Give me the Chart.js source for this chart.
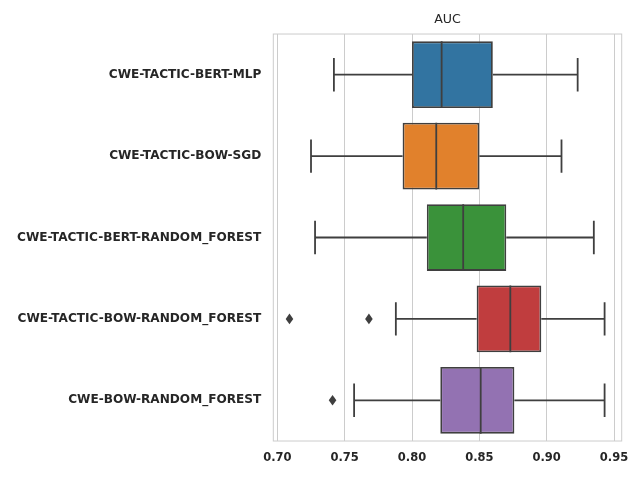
<!DOCTYPE html>
<html>
<head>
<meta charset="utf-8">
<script src="https://cdn.jsdelivr.net/npm/chart.js@4"></script>
<style>
  html, body { margin: 0; padding: 0; background: #fff; }
  #wrap { width: 640px; height: 480px; }
</style>
</head>
<body>
<div id="wrap"><canvas id="myChart" width="640" height="480"></canvas></div>
<script>
// values
const models = ['CWE-TACTIC-BERT-MLP', 'CWE-TACTIC-BOW-SGD', 'CWE-TACTIC-BERT-RANDOM_FOREST', 'CWE-TACTIC-BOW-RANDOM_FOREST', 'CWE-BOW-RANDOM_FOREST'];
const whiskerLow = [0.742, 0.725, 0.728, 0.788, 0.757];
const q1 = [0.800, 0.793, 0.811, 0.848, 0.821];
const median = [0.822, 0.818, 0.838, 0.873, 0.851];
const q3 = [0.860, 0.850, 0.870, 0.896, 0.876];
const whiskerHigh = [0.923, 0.911, 0.935, 0.943, 0.943];
const outliers = [[], [], [], [0.709, 0.768], [0.741]];
const boxColors = ['#3274a1', '#e1812c', '#3a923a', '#c03d3e', '#9372b2'];
const xTicks = [0.70, 0.75, 0.80, 0.85, 0.90, 0.95];

const edgeColor = '#3f3f3f';
const textColor = '#262626';
const font = 'DejaVu Sans';

// whiskers, medians and fliers drawn from the scales
const boxExtras = {
    id: 'boxExtras',
    beforeDatasetsDraw: (chart) => {
        const ctx = chart.ctx;
        const a = chart.chartArea;
        ctx.save();
        ctx.strokeStyle = '#cccccc';
        ctx.lineWidth = 1;
        ctx.strokeRect(a.left, a.top, a.right - a.left, a.bottom - a.top);
        ctx.restore();
    },
    afterDatasetsDraw: (chart) => {
        const ctx = chart.ctx;
        const x = chart.scales.x;
        const meta = chart.getDatasetMeta(0);
        ctx.save();
        ctx.strokeStyle = edgeColor;
        ctx.fillStyle = edgeColor;
        ctx.lineWidth = 1.8;
        models.forEach((m, i) => {
            const bar = meta.data[i];
            const yc = chart.scales.y.getPixelForValue(i);
            const half = bar.height / 2;
            const cap = bar.height / 4;
            const xl = x.getPixelForValue(whiskerLow[i]);
            const xh = x.getPixelForValue(whiskerHigh[i]);
            const x1 = x.getPixelForValue(q1[i]);
            const x3 = x.getPixelForValue(q3[i]);
            const xm = x.getPixelForValue(median[i]);
            ctx.beginPath();
            ctx.moveTo(xl, yc); ctx.lineTo(x1, yc);
            ctx.moveTo(x3, yc); ctx.lineTo(xh, yc);
            ctx.moveTo(xl, yc - cap); ctx.lineTo(xl, yc + cap);
            ctx.moveTo(xh, yc - cap); ctx.lineTo(xh, yc + cap);
            ctx.moveTo(xm, yc - half); ctx.lineTo(xm, yc + half);
            ctx.stroke();
            outliers[i].forEach(v => {
                const px = x.getPixelForValue(v);
                ctx.beginPath();
                ctx.moveTo(px, yc - 5.3);
                ctx.lineTo(px + 3.8, yc);
                ctx.lineTo(px, yc + 5.3);
                ctx.lineTo(px - 3.8, yc);
                ctx.closePath();
                ctx.fill();
            });
        });
        ctx.restore();
    }
};

const configuration = {
    type: 'bar',
    data: {
        labels: models,
        datasets: [{
            data: models.map((m, i) => [q1[i], q3[i]]),
            backgroundColor: boxColors,
            borderColor: edgeColor,
            borderWidth: 1.8,
            borderSkipped: false,
            barPercentage: 0.82,
            categoryPercentage: 1.0
        }]
    },
    options: {
        indexAxis: 'y',
        responsive: false,
        animation: false,
        layout: { padding: { left: 0, right: 18.3, top: 0, bottom: 0 } },
        scales: {
            x: {
                min: 0.697,
                max: 0.9557,
                afterBuildTicks: (scale) => {
                    scale.ticks = xTicks.map(v => ({ value: v }));
                },
                afterFit: (scale) => { scale.height = 39; },
                grid: { color: '#cccccc', lineWidth: 1, drawTicks: false },
                border: { display: false },
                ticks: {
                    padding: 10.5,
                    color: textColor,
                    font: { family: font, size: 11.5, weight: 'bold' },
                    callback: (v) => Number(v).toFixed(2)
                }
            },
            y: {
                afterFit: (scale) => { scale.width = 273.3; },
                grid: { display: false, drawTicks: false },
                border: { display: false },
                ticks: {
                    padding: 12,
                    color: textColor,
                    font: { family: font, size: 12.1, weight: 'bold' }
                }
            }
        },
        plugins: {
            legend: { display: false },
            tooltip: { enabled: false },
            title: {
                display: true,
                fullSize: false,
                text: 'AUC',
                color: textColor,
                font: { family: font, size: 12.6, weight: 'normal' },
                padding: { top: 12.4, bottom: 6.5 }
            }
        }
    },
    plugins: [boxExtras]
};

new Chart(document.getElementById('myChart'), configuration);
</script>
</body>
</html>
